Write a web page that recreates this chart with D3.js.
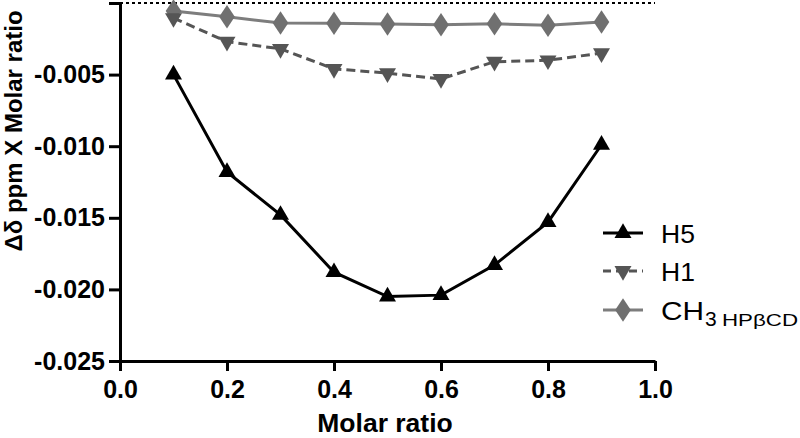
<!DOCTYPE html>
<html><head><meta charset="utf-8">
<script src="https://cdn.jsdelivr.net/npm/d3@7/dist/d3.min.js"></script>
<style>body{margin:0;background:#fff}svg{display:block}</style>
</head><body>
<svg id="c" width="800" height="438"></svg>
<script>
const molarRatio = [0.1,0.2,0.3,0.4,0.5,0.6,0.7,0.8,0.9];
const h5  = [-0.0050,-0.0118,-0.0148,-0.0188,-0.0205,-0.0204,-0.0183,-0.0153,-0.0099];
const h1  = [-0.00105,-0.0027,-0.0032,-0.0046,-0.0049,-0.0053,-0.0041,-0.0040,-0.0035];
const ch3 = [-0.00056,-0.00096,-0.00140,-0.00142,-0.00147,-0.00152,-0.00145,-0.00156,-0.00132];
const xTicks = [0,0.2,0.4,0.6,0.8,1.0];
const yTicks = [0,-0.005,-0.010,-0.015,-0.020,-0.025];
const seriesNames = ["H5","H1","CH3"];

const svg = d3.select("#c");
const x = d3.scaleLinear().domain([0,1]).range([120,655]);
const y = d3.scaleLinear().domain([0,-0.025]).range([3,361]);
const font = "'Liberation Sans', Arial, Helvetica, sans-serif";

// dotted zero line
svg.append("line").attr("x1",x(0)).attr("x2",x(1)).attr("y1",y(0)).attr("y2",y(0))
  .attr("stroke","#000").attr("stroke-width",2).attr("stroke-dasharray","3,3");

// axes
const xAxis = svg.append("g").attr("transform",`translate(0,${y(-0.025)})`)
  .call(d3.axisBottom(x).tickValues(xTicks).tickFormat(d3.format(".1f")).tickSize(10).tickSizeOuter(0).tickPadding(8));
const yAxis = svg.append("g").attr("transform",`translate(${x(0)},0)`)
  .call(d3.axisLeft(y).tickValues(yTicks).tickFormat(d=> d===0?"":d3.format(".3f")(d).replace("−","-")).tickSize(11).tickSizeOuter(0).tickPadding(4));
[xAxis,yAxis].forEach(g=>{
  g.select(".domain").attr("stroke","#000").attr("stroke-width",3);
  g.selectAll(".tick line").attr("stroke","#000").attr("stroke-width",3);
  g.selectAll(".tick text").attr("fill","#000").attr("font-family",font)
   .attr("font-weight","bold").attr("font-size",25);
});
xAxis.selectAll(".tick text").attr("dy","0.75em");

// titles
svg.append("text").attr("x",385).attr("y",432).attr("text-anchor","middle")
  .attr("font-family",font).attr("font-weight","bold").attr("font-size",26.5).text("Molar ratio");
svg.append("text").attr("transform","translate(22,131) rotate(-90)").attr("text-anchor","middle")
  .attr("font-family",font).attr("font-weight","bold").attr("font-size",24).text("Δδ ppm X Molar ratio");

const styles = {
  H5:{data:h5,color:"#000",mcolor:"#000",dash:null,sym:d3.symbolTriangle,size:125,rot:0},
  H1:{data:h1,color:"#555",mcolor:"#555",dash:"9,5",sym:d3.symbolTriangle,size:125,rot:180},
  CH3:{data:ch3,color:"#7d7d7d",mcolor:"#707070",dash:null,sym:d3.symbolDiamond,size:160,rot:0}
};
const line = d3.line().x((d,i)=>x(molarRatio[i])).y(d=>y(d));
["CH3","H1","H5"].forEach(name=>{
  const s = styles[name];
  svg.append("path").attr("d",line(s.data)).attr("fill","none").attr("stroke",s.color)
    .attr("stroke-width",3).attr("stroke-dasharray",s.dash);
  svg.selectAll(null).data(s.data).enter().append("path")
    .attr("d",d3.symbol().type(s.sym).size(s.size))
    .attr("transform",(d,i)=>`translate(${x(molarRatio[i])},${y(d)}) rotate(${s.rot})${name==="CH3"?" scale(1.15,1)":""}`)
    .attr("fill",s.mcolor);
});

// legend
const legY = [233,271,310];
seriesNames.forEach((name,i)=>{
  const s = styles[name];
  const g = svg.append("g").attr("transform",`translate(0,${legY[i]})`);
  g.append("line").attr("x1",603).attr("x2",643).attr("y1",0).attr("y2",0)
    .attr("stroke",s.color).attr("stroke-width",3).attr("stroke-dasharray",name==="H1"?"8,5":null);
  g.append("path").attr("d",d3.symbol().type(s.sym).size(s.size))
    .attr("transform",`translate(623,0) rotate(${s.rot})${name==="CH3"?" scale(1.15,1)":""}`).attr("fill",s.mcolor);
  if(name==="CH3"){
    g.append("text").attr("x",661).attr("y",10).attr("font-family",font).attr("font-size",26.5).attr("fill","#000")
      .attr("textLength",43).attr("lengthAdjust","spacingAndGlyphs").text("CH");
    g.append("text").attr("x",705).attr("y",16).attr("font-family",font).attr("font-size",21).attr("fill","#000").text("3");
    g.append("text").attr("x",722).attr("y",16).attr("font-family",font).attr("font-size",17).attr("fill","#000")
      .attr("textLength",76).attr("lengthAdjust","spacingAndGlyphs").text("HPβCD");
  } else {
    g.append("text").attr("x",661).attr("y",10).attr("font-family",font).attr("font-size",26.5).attr("fill","#000").text(name);
  }
});
</script>
</body></html>
